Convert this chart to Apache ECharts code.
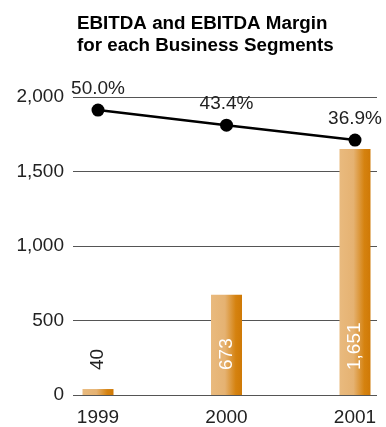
<!DOCTYPE html>
<html>
<head>
<meta charset="utf-8">
<script src="https://cdn.jsdelivr.net/npm/echarts@6/dist/echarts.min.js"></script>
<style>
  html, body { margin: 0; padding: 0; background: #fff; }
  #chart { width: 386px; height: 427px; }
</style>
</head>
<body>
<div id="chart"></div>
<script>
const years = ['1999', '2000', '2001']
const ebitda = [40, 673, 1651]
const margin = [50.0, 43.4, 36.9]
const yTicks = [0, 500, 1000, 1500, 2000]

const chart = echarts.init(document.getElementById('chart'))

// bar fill: light tan on the left, burnt orange on the right
const barFill = new echarts.graphic.LinearGradient(0, 0, 1, 0, [
  { offset: 0, color: '#E9BA7E' },
  { offset: 0.45, color: '#E5B272' },
  { offset: 0.8, color: '#D5820F' },
  { offset: 1, color: '#CF7906' }
])

const font = 'Liberation Sans, Arial, sans-serif'

const option = {
  animation: false,
  title: {
    text: 'EBITDA and EBITDA Margin\nfor each Business Segments',
    left: 72,
    top: 8,
    textStyle: { fontFamily: font, fontSize: 18.8, fontWeight: 'bold', color: '#000', lineHeight: 22 }
  },
  grid: [
    // background grid with the tick labels and gridlines
    { left: 73, right: 9, top: 97, bottom: 32 },
    // plotting grid for the categories
    { left: 98, right: 31, top: 97, bottom: 32 }
  ],
  xAxis: [
    { gridIndex: 0, type: 'value', min: 0, max: 1, show: false },
    {
      gridIndex: 1,
      type: 'category',
      data: years,
      boundaryGap: false,
      axisLine: { show: false },
      axisTick: { show: false },
      axisLabel: { fontFamily: font, fontSize: 19, color: '#222', margin: 13 }
    }
  ],
  yAxis: [
    {
      gridIndex: 0,
      type: 'value',
      min: yTicks[0],
      max: yTicks[yTicks.length - 1],
      interval: 500,
      axisLine: { show: false },
      axisTick: { show: false },
      axisLabel: {
        fontFamily: font, fontSize: 19, color: '#222', margin: 9,
        formatter: v => v.toLocaleString('en-US')
      },
      splitLine: { lineStyle: { color: '#555', width: 1 } }
    },
    { gridIndex: 1, type: 'value', min: 0, max: 2000, show: false },
    { gridIndex: 1, type: 'value', min: -74.4, max: 55.7, show: false }
  ],
  series: [
    {
      type: 'bar',
      xAxisIndex: 1,
      yAxisIndex: 1,
      barWidth: 31,
      data: ebitda.map((v, i) => ({ value: v, label: { color: i === 0 ? '#222' : '#fff' } })),
      itemStyle: { color: barFill },
      label: {
        show: true,
        position: 'insideBottom',
        distance: 25,
        rotate: 90,
        align: 'left',
        verticalAlign: 'middle',
        fontFamily: font,
        fontSize: 19,
        formatter: p => p.value.toLocaleString('en-US')
      }
    },
    {
      type: 'line',
      xAxisIndex: 1,
      yAxisIndex: 2,
      data: margin,
      symbol: 'circle',
      symbolSize: 13,
      lineStyle: { color: '#000', width: 2.5 },
      itemStyle: { color: '#000' },
      label: {
        show: true,
        position: 'top',
        distance: 5,
        fontFamily: font,
        fontSize: 19,
        color: '#222',
        formatter: p => p.value.toFixed(1) + '%'
      }
    }
  ]
}

chart.setOption(option)
</script>
</body>
</html>
